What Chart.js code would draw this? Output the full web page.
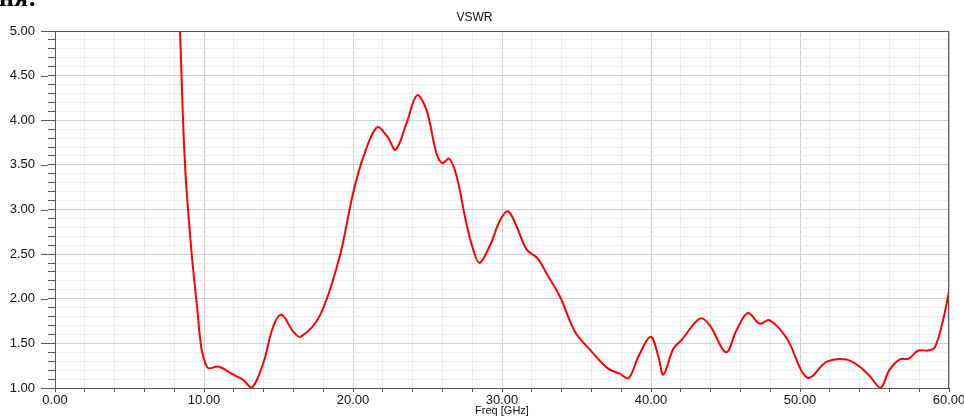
<!DOCTYPE html>
<html>
<head>
<meta charset="utf-8">
<script src="https://cdn.jsdelivr.net/npm/chart.js@4.4.0/dist/chart.umd.min.js"></script>
<style>
  html, body { margin: 0; padding: 0; background: #fff; }
  #wrap { position: relative; width: 964px; height: 418px; overflow: hidden; }
  #cut { position: absolute; left: -1px; top: -15px; font: bold 26px "Liberation Serif", "DejaVu Serif", serif; line-height: 1; color: #000; }
</style>
</head>
<body>
<div id="wrap">
  <canvas id="chart"></canvas>
  <div id="cut">ня:</div>
</div>
<script>
// VSWR vs frequency
const freq = [8.3, 8.39, 8.72, 9.17, 9.51, 9.84, 10.18, 10.4, 10.96, 11.97, 12.64, 13.2, 13.98, 14.65, 15.2, 16.0, 16.5,
  17.8, 19.1, 20.0, 20.7, 21.6, 22.3, 22.86, 23.6, 24.3, 24.94, 25.6, 26.0, 26.46, 26.96, 27.6, 28.07, 28.5,
  29.2, 29.87, 30.4, 30.98, 31.66, 32.4, 33.0, 33.9, 34.9, 35.9, 37.1, 37.9, 38.5, 39.15, 39.98, 40.5, 40.83,
  41.5, 42.06, 43.3, 43.96, 45.03, 45.75, 46.5, 47.3, 47.94, 49.1, 50.5, 51.8, 53.1, 54.0, 54.7, 55.4,
  56.0, 56.7, 57.3, 57.94, 58.6, 59.06, 59.6, 60.0];
const vswr = [5.4, 5.0, 3.52, 2.51, 1.95, 1.43, 1.24, 1.22, 1.24, 1.15, 1.09, 1.0, 1.28, 1.69, 1.82, 1.63, 1.575,
  1.82, 2.47, 3.18, 3.59, 3.92, 3.82, 3.67, 3.97, 4.28, 4.11, 3.63, 3.52, 3.57, 3.37, 2.85, 2.55, 2.40,
  2.60, 2.88, 2.98, 2.81, 2.55, 2.45, 2.28, 2.02, 1.63, 1.43, 1.22, 1.16, 1.11, 1.35, 1.575, 1.35, 1.15,
  1.44, 1.54, 1.78, 1.70, 1.40, 1.65, 1.84, 1.72, 1.76, 1.56, 1.115, 1.295, 1.32, 1.24, 1.13, 1.0,
  1.20, 1.32, 1.33, 1.42, 1.42, 1.46, 1.76, 2.08];

const xMin = 0, xMax = 60, xStep = 2, xMajor = 10;
const yMin = 1, yMax = 5, yStep = 0.1;

const FONT = '"Liberation Sans", Arial, sans-serif';
const AXIS = '#555555';
const TEXT = '#111111';

const isMajorY = v => Math.round(v * 10) % 5 === 0;
const isMajorX = v => Math.round(v) % xMajor === 0;

// frame on top/right + longer ticks at the labelled y values
const framePlugin = {
  id: 'frame',
  afterDraw(chart) {
    const { ctx, chartArea: a } = chart;
    const y = chart.scales.y;
    ctx.save();
    ctx.strokeStyle = AXIS;
    ctx.lineWidth = 1;
    ctx.beginPath();
    ctx.moveTo(a.left, a.top + 0.5);
    ctx.lineTo(a.right, a.top + 0.5);
    ctx.moveTo(a.right - 0.5, a.top);
    ctx.lineTo(a.right - 0.5, a.bottom);
    y.ticks.forEach(t => {
      if (!isMajorY(t.value)) return;
      const py = Math.round(y.getPixelForValue(t.value)) + 0.5;
      ctx.moveTo(a.left - 14, py);
      ctx.lineTo(a.left - 7, py);
    });
    ctx.stroke();
    ctx.restore();
  }
};

new Chart(document.getElementById('chart'), {
  type: 'line',
  data: {
    datasets: [{
      data: freq.map((f, i) => ({ x: f, y: vswr[i] })),
      borderColor: '#ff0000',
      borderWidth: 2,
      pointRadius: 0,
      tension: 0.35,
      fill: false
    }]
  },
  options: {
    responsive: true,
    maintainAspectRatio: false,
    animation: false,
    devicePixelRatio: 1,
    layout: { padding: { left: 0, right: 15, top: 0, bottom: 0 } },
    plugins: {
      legend: { display: false },
      tooltip: { enabled: false },
      title: {
        display: true,
        text: 'VSWR',
        color: TEXT,
        font: { family: FONT, size: 12, weight: 'normal' },
        padding: { top: 10, bottom: 6.6 }
      }
    },
    scales: {
      x: {
        type: 'linear',
        min: xMin,
        max: xMax,
        afterFit(s) { s.height = 30; s.paddingRight = 15; s.paddingLeft = 0; },
        ticks: {
          stepSize: xStep,
          autoSkip: false,
          maxRotation: 0,
          padding: 1,
          color: TEXT,
          font: { family: FONT, size: 13 },
          callback: v => (isMajorX(v) ? v.toFixed(2) : '')
        },
        grid: {
          color: c => (isMajorX(c.tick.value) ? '#cfcfcf' : '#ececec'),
          tickColor: AXIS,
          tickLength: 4
        },
        border: { color: AXIS },
        title: {
          display: true,
          text: 'Freq [GHz]',
          color: TEXT,
          font: { family: FONT, size: 11 },
          padding: { top: 0, bottom: 0 }
        }
      },
      y: {
        min: yMin,
        max: yMax,
        afterFit(s) { s.width = 55; },
        ticks: {
          stepSize: yStep,
          autoSkip: false,
          padding: 13,
          color: TEXT,
          font: { family: FONT, size: 13 },
          callback: v => (isMajorY(v) ? v.toFixed(2) : '')
        },
        grid: {
          color: c => (isMajorY(c.tick.value) ? '#cfcfcf' : '#ededed'),
          tickColor: AXIS,
          tickLength: 7
        },
        border: { color: AXIS }
      }
    }
  },
  plugins: [framePlugin]
});
</script>
</body>
</html>
